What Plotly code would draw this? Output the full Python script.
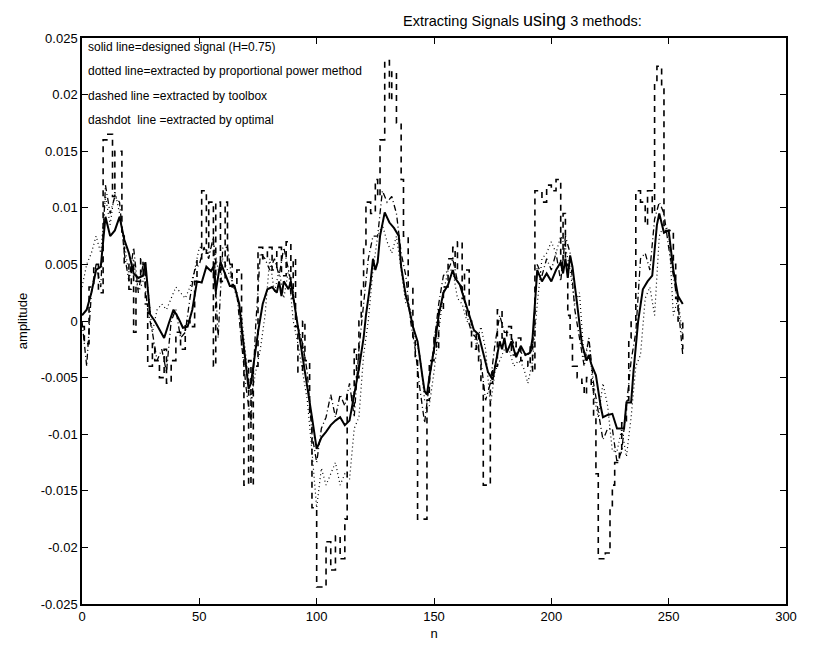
import plotly.graph_objects as go

# ---- data ----
solid_n = [0,2,4,6,8,10,12,14,16,18,20,22,24,26,27,29,31,33,35,37,39,41,43,45,47,49,51,53,55,56,57,59,61,63,65,67,68,70,71,72,73,75,77,79,81,83,84,85,86,88,89,90,92,94,96,98,100,102,104,106,108,110,112,114,116,118,120,121,123,124,125,126,127,129,131,133,135,136,138,139,141,143,145,146,147,148,150,152,154,156,158,159,161,163,165,167,169,171,173,175,177,178,179,180,181,183,185,187,189,191,192,193,194,196,198,200,202,204,205,206,207,208,209,211,213,215,216,217,219,221,222,224,226,228,230,231,232,234,235,237,239,241,243,245,246,247,248,250,252,254,256]
solid_v = [0.0005,0.001,0.0025,0.0045,0.0048,0.0092,0.0075,0.008,0.0092,0.0072,0.006,0.0042,0.0038,0.004,0.0052,0.0006,0.0,-0.0007,-0.0015,-0.0002,0.001,0.0003,-0.0006,-0.0005,0.001,0.0035,0.0034,0.0048,0.0044,0.0048,0.0026,0.0052,0.0042,0.0031,0.0031,0.0015,-0.0005,-0.0045,-0.006,-0.0055,-0.004,-0.001,0.0015,0.0028,0.003,0.0025,0.0035,0.0022,0.0035,0.0028,0.0035,0.0022,-0.0005,-0.003,-0.006,-0.0085,-0.0113,-0.0103,-0.0098,-0.0092,-0.0088,-0.0085,-0.0092,-0.0088,-0.0065,-0.0042,-0.0015,0.0005,0.0035,0.0055,0.0045,0.0052,0.0075,0.0096,0.0087,0.0082,0.0075,0.0048,0.0022,0.0015,-0.0005,-0.0018,-0.0048,-0.0062,-0.0065,-0.005,-0.0025,0.0005,0.0025,0.0032,0.0045,0.0038,0.0032,0.0018,0.0005,-0.0008,-0.0012,-0.0028,-0.0045,-0.0052,-0.003,-0.0018,-0.0025,-0.0015,-0.0028,-0.0018,-0.0032,-0.0022,-0.003,-0.0028,-0.0015,0.002,0.0045,0.0035,0.0042,0.0035,0.0045,0.0052,0.0042,0.0055,0.0038,0.0058,0.0048,0.0015,-0.002,-0.0035,-0.003,-0.0038,-0.0048,-0.0075,-0.0085,-0.0083,-0.0082,-0.0095,-0.0095,-0.0095,-0.0072,-0.0072,-0.0045,0.0,0.0028,0.0035,0.004,0.0085,0.0095,0.0085,0.0078,0.008,0.0045,0.0022,0.0015]

even_n = list(range(0, 257, 2))
dotted_v = [0.003,0.005,0.006,0.0075,0.006,0.011,0.0085,0.0115,0.0095,0.007,0.004,0.0055,0.0025,0.0035,0.003,-0.001,0.001,0.0015,0.001,0.002,0.003,0.0025,0.002,0.003,0.0045,0.0065,0.0065,0.006,0.007,0.0045,0.0055,0.0045,0.0035,0.002,0.0005,-0.0035,-0.007,-0.0045,-0.0025,0.0005,0.0055,0.0025,0.0045,0.002,0.0045,0.0,-0.002,-0.0045,-0.007,-0.0115,-0.0165,-0.013,-0.0145,-0.0135,-0.0125,-0.0145,-0.0135,-0.014,-0.0095,-0.0085,-0.003,0.0,0.0045,0.0075,0.0085,0.007,0.006,0.0075,0.0045,0.0015,0.001,-0.0015,-0.003,-0.007,-0.0075,-0.0045,-0.001,0.0025,0.0045,0.0045,0.002,0.0015,0.0,-0.0005,-0.002,-0.0005,-0.0025,-0.0075,-0.0045,-0.0035,-0.0025,-0.0025,-0.004,-0.0035,-0.004,-0.0055,-0.0035,0.0015,0.0055,0.006,0.007,0.006,0.0075,0.0065,0.0045,0.0015,0.0025,-0.0035,-0.0015,-0.0065,-0.0085,-0.0055,-0.0075,-0.0115,-0.0115,-0.0095,-0.012,-0.0085,-0.004,-0.003,0.002,0.003,0.0005,0.0075,0.0085,0.008,0.0005,0.002,-0.0015]

dashdot_v = [0.0,-0.004,0.0025,0.005,0.003,0.012,0.0095,0.011,0.0105,0.006,0.0035,0.0065,0.0025,0.005,0.001,-0.001,-0.0035,-0.0025,-0.0045,0.0,0.001,-0.0015,-0.001,0.002,0.0045,0.005,0.0065,0.0055,0.0075,-0.0015,0.0065,0.0065,0.0035,0.0025,-0.002,-0.006,-0.009,-0.0005,0.006,0.0055,0.0045,0.0055,0.004,0.0065,0.0045,0.0025,-0.0005,-0.002,-0.0045,-0.01,-0.0125,-0.0095,-0.0085,-0.0065,-0.0085,-0.0065,-0.0075,-0.0055,-0.0085,-0.0025,0.0015,0.0055,0.0075,0.0075,0.0115,0.0105,0.011,0.0095,0.006,0.004,0.0,-0.0025,-0.006,-0.009,-0.0055,-0.002,0.0015,0.004,0.0045,0.0055,0.0035,0.003,0.0005,-0.001,-0.0015,-0.0035,-0.007,-0.0055,-0.002,0.0005,-0.001,-0.001,-0.002,-0.0025,-0.003,-0.003,-0.0025,0.005,0.004,0.0055,0.0045,0.006,0.0035,0.0075,0.006,0.001,-0.0015,-0.004,-0.0015,-0.0055,-0.008,-0.0105,-0.0095,-0.0095,-0.0125,-0.0115,-0.0075,-0.0035,-0.001,0.0055,0.006,0.0045,0.009,0.0105,0.0095,0.0065,0.004,0.0015,-0.003]

dashed_n = [0,1,3,5,7,9,11,13,14,17,18,20,21,22,23,25,26,27,28,30,31,33,35,36,38,40,42,44,46,48,49,51,53,54,56,57,59,61,62,64,66,68,69,71,72,73,75,77,79,81,83,85,87,89,90,91,92,94,95,97,98,100,102,104,106,108,110,112,113,115,116,117,118,119,120,121,123,125,126,127,129,131,132,134,136,137,139,141,142,143,145,147,148,150,151,152,154,156,158,159,160,162,163,165,166,168,169,170,171,174,175,177,179,181,183,185,187,188,190,191,192,193,196,198,200,202,204,205,206,207,208,209,211,213,214,215,217,218,219,220,223,225,226,227,229,230,232,233,234,236,238,240,241,243,244,245,247,248,250,252,253,254,256]
dashed_v = [-0.0005,-0.002,0.003,0.005,0.0025,0.016,0.0165,0.011,0.015,0.0075,0.005,0.0028,0.005,-0.001,0.0035,0.0055,0.005,0.0015,-0.004,-0.002,-0.0035,-0.005,-0.0025,-0.0055,-0.0035,-0.001,-0.0025,0.0,-0.0005,0.0035,0.0055,0.0115,0.006,0.0105,-0.004,0.0105,0.0035,0.0105,0.005,0.003,0.0045,-0.0025,-0.0145,-0.0035,-0.0145,-0.004,0.0065,0.0055,0.0065,0.0045,0.0065,0.004,0.007,0.002,0.0055,-0.0005,-0.0045,0.0,-0.0035,-0.0085,-0.0165,-0.0235,-0.0235,-0.0195,-0.022,-0.019,-0.021,-0.0175,-0.0065,-0.0075,-0.0025,-0.005,0.0,0.003,0.0065,0.0105,0.0095,0.0125,0.011,0.016,0.023,0.0195,0.022,0.0175,0.0125,0.0075,0.003,-0.0015,-0.0035,-0.0175,-0.0175,-0.007,-0.0035,-0.001,-0.0025,0.001,0.003,0.0055,0.0065,0.0045,0.007,0.002,0.0045,0.0,-0.0025,-0.001,-0.0035,-0.0055,-0.0145,-0.0055,-0.004,0.001,-0.0015,-0.0005,-0.003,-0.0015,-0.0035,-0.0035,-0.004,-0.002,-0.0045,0.0115,0.0105,0.012,0.0115,0.0125,0.0045,0.0095,0.005,0.0005,-0.0015,-0.004,-0.005,-0.0055,-0.0065,-0.005,-0.006,-0.0085,-0.0135,-0.021,-0.0205,-0.0165,-0.0145,-0.0125,-0.0115,-0.009,-0.007,-0.0015,0.0,0.0115,0.0105,0.0085,0.0115,0.0095,0.021,0.0225,0.0205,0.008,0.008,0.005,0.002,0.0,-0.0025]

x_ticks = [0, 50, 100, 150, 200, 250, 300]
y_ticks = [-0.025, -0.02, -0.015, -0.01, -0.005, 0, 0.005, 0.01, 0.015, 0.02, 0.025]
y_tick_text = ["-0.025", "-0.02", "-0.015", "-0.01", "-0.005", "0", "0.005", "0.01", "0.015", "0.02", "0.025"]
legend_lines = [
    "solid line=designed signal (H=0.75)",
    "dotted line=extracted by proportional power method",
    "dashed line =extracted by toolbox",
    "dashdot  line =extracted by optimal",
]

FONT = "Liberation Sans, Arial, Helvetica, sans-serif"

fig = go.Figure()
fig.add_trace(go.Scatter(x=dashed_n, y=dashed_v, mode="lines", line_shape="hv",
                         line=dict(color="black", width=1.6, dash="6px,5px")))
fig.add_trace(go.Scatter(x=even_n, y=dotted_v, mode="lines",
                         line=dict(color="black", width=1.2, dash="1px,3px")))
fig.add_trace(go.Scatter(x=even_n, y=dashdot_v, mode="lines",
                         line=dict(color="black", width=1.3, dash="6px,3px,1px,3px")))
fig.add_trace(go.Scatter(x=solid_n, y=solid_v, mode="lines",
                         line=dict(color="black", width=2)))

axis_common = dict(showline=True, linecolor="black", linewidth=1.5, mirror="ticks",
                   ticks="inside", ticklen=6, tickcolor="black", showgrid=False,
                   zeroline=False, automargin=False,
                   tickfont=dict(family=FONT, size=13, color="black"))

fig.update_xaxes(range=[0, 300], tickvals=x_ticks, **axis_common,
                 title=dict(text="n", font=dict(family=FONT, size=13, color="black"), standoff=6))
fig.update_yaxes(range=[-0.025, 0.025], tickvals=y_ticks, ticktext=y_tick_text, **axis_common,
                 title=dict(text="amplitude", font=dict(family=FONT, size=13, color="black"), standoff=10))

annotations = [dict(xref="paper", yref="paper", x=0.625, y=1.032, xanchor="center", yanchor="middle",
                    showarrow=False,
                    text="Extracting Signals <span style='font-size:18px'>using</span> 3 methods:",
                    font=dict(family=FONT, size=14.5, color="black"))]
for i, t in enumerate(legend_lines):
    annotations.append(dict(xref="paper", yref="paper", x=0.006, y=0.984 - i * 0.043,
                            xanchor="left", yanchor="middle", showarrow=False, text=t,
                            font=dict(family=FONT, size=12, color="black")))

# the page adds an 8 px body margin, so the figure is shrunk by 8 px and margins shifted
fig.update_layout(width=809, height=640, plot_bgcolor="white", paper_bgcolor="white",
                  margin=dict(l=74, r=31, t=30, b=44), showlegend=False,
                  annotations=annotations)

fig.write_html("out.html")
